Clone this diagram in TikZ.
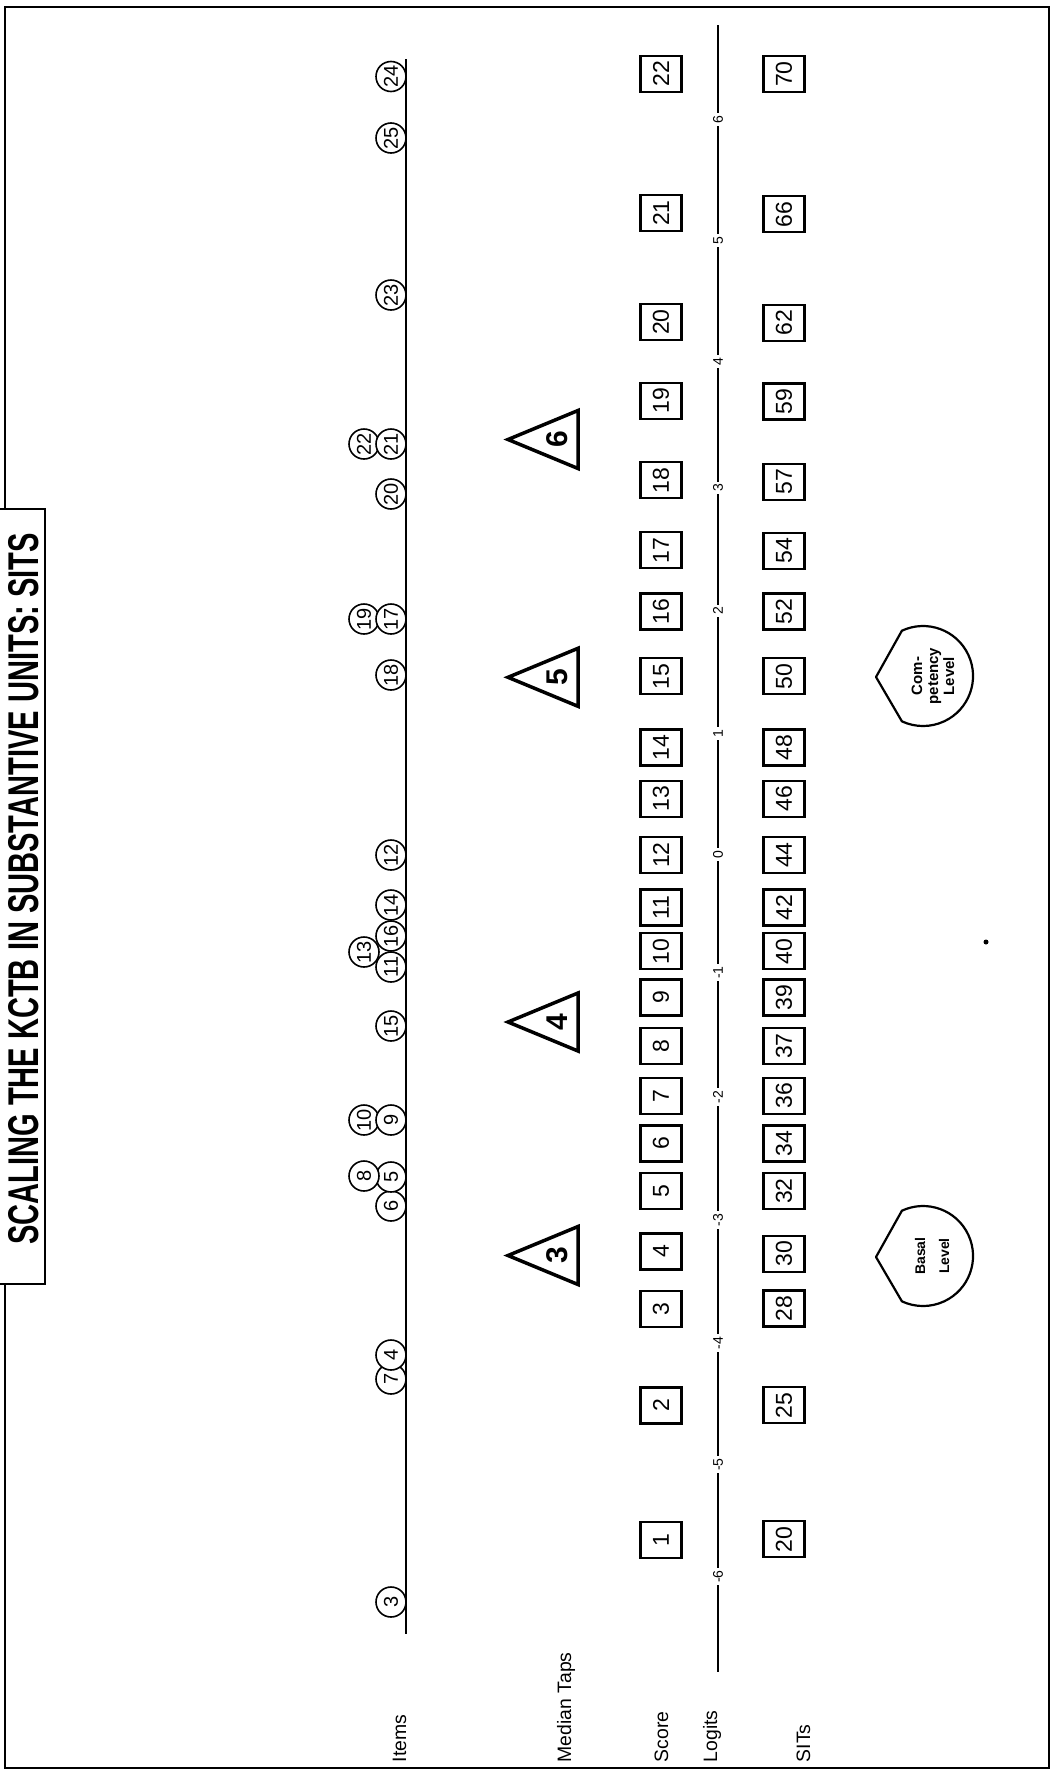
\documentclass[tikz,border=0pt]{standalone}
\usepackage{fontspec}
\setmainfont{Liberation Sans}
\begin{document}
\begin{tikzpicture}[x=1pt,y=-1pt,
  itm/.style={circle, draw, fill=white, line width=1.6pt, minimum size=30pt, inner sep=0pt, rotate=90, font=\fontsize{20}{20}\selectfont},
  sbox/.style={rectangle, draw, fill=white, line width=2.2pt, minimum width=36pt, minimum height=41pt, inner sep=0pt, rotate=90, font=\fontsize{23}{23}\selectfont},
  lgt/.style={fill=white, inner sep=2.5pt, rotate=90, font=\fontsize{14}{14}\selectfont},
  rowlab/.style={rotate=90, anchor=base west, inner sep=0pt, font=\fontsize{19.4}{20}\selectfont},
  tri/.style={line width=3.5pt, line join=miter},
  trilab/.style={rotate=90, inner sep=0pt, font=\fontsize{30}{30}\selectfont\bfseries},
  lvl/.style={line width=2.2pt, line join=round},
  lvltext/.style={rotate=90, align=center, inner sep=0pt},
  axisline/.style={line width=2pt},
  framel/.style={line width=2pt}
]
\useasboundingbox (0,0) rectangle (1057,1775);

% outer frame and title box
\draw[framel] (5,509) -- (5,7) -- (1049,7) -- (1049,1768) -- (5,1768) -- (5,1284);
\draw[framel] (0,509) -- (45,509) -- (45,1284) -- (0,1284);
\node[rotate=90, anchor=base, inner sep=0pt, font=\fontsize{43}{43}\selectfont\bfseries] (title) at (38,889)
  {\scalebox{0.676}[1]{SCALING THE KCTB IN SUBSTANTIVE UNITS: SITS}};

% row labels
\node[rowlab] (lItems)  at (406,1762.5) {Items};
\node[rowlab] (lMedian) at (571,1762.5) {Median Taps};
\node[rowlab] (lScore)  at (668,1762.5) {Score};
\node[rowlab] (lLogits) at (717,1762.5) {Logits};
\node[rowlab] (lSITs)   at (810,1762.5) {SITs};

% items line
\coordinate (itop) at (406,59);
\coordinate (ibot) at (406,1633.5);
\draw[axisline] (itop) -- (ibot);

% item circles (back ones first)
\node[itm] (i24) at (391,76.5) {24};
\node[itm] (i25) at (391,138) {25};
\node[itm] (i23) at (391,295) {23};
\node[itm] (i22) at (364,444) {22};
\node[itm] (i21) at (391,444) {21};
\node[itm] (i20) at (391,494) {20};
\node[itm] (i19) at (364,619) {19};
\node[itm] (i17) at (391,619) {17};
\node[itm] (i18) at (391,675) {18};
\node[itm] (i12) at (391,855) {12};
\node[itm] (i16) at (391,936) {16};
\node[itm] (i14) at (391,905) {14};
\node[itm] (i11) at (391,967) {11};
\node[itm] (i13) at (364,952) {13};
\node[itm] (i15) at (391,1026) {15};
\node[itm] (i10) at (364,1120) {10};
\node[itm] (i9)  at (391,1120) {9};
\node[itm] (i6)  at (391,1206) {6};
\node[itm] (i5)  at (391,1177) {5};
\node[itm] (i8)  at (364,1176) {8};
\node[itm] (i7)  at (391,1379) {7};
\node[itm] (i4)  at (391,1355) {4};
\node[itm] (i3)  at (391,1602) {3};

% median taps triangles
\foreach \n/\yc in {6/439.5, 5/677.3, 4/1022, 3/1255.5}{
  \draw[tri] (508,\yc) -- (578,\yc-29) -- (578,\yc+29) -- cycle;
  \node[trilab] (t\n) at (557,\yc) {\n};
}

% score boxes
\foreach \n/\y in {1/1539.6, 2/1405.4, 3/1308.7, 4/1251.5, 5/1191, 6/1143.4, 7/1095.7, 8/1046,
  9/997.4, 10/951.3, 11/907.4, 12/855, 13/798.6, 14/747.5, 15/676.3, 16/611.4, 17/550.3,
  18/480.3, 19/400.9, 20/322, 21/213, 22/73.7}{
  \node[sbox] (s\n) at (661,\y) {\n};
}

% logits axis
\coordinate (ltop) at (718,25);
\coordinate (lbot) at (718,1671.5);
\draw[axisline] (ltop) -- (lbot);
\foreach \nm/\t/\y in {p6/6/119.4, p5/5/240.3, p4/4/361.7, p3/3/487.9, p2/2/611, p1/1/733.5,
  z0/0/854.8, m1/-1/972.7, m2/-2/1097, m3/-3/1219.8, m4/-4/1343.2, m5/-5/1464.6, m6/-6/1576.6}{
  \node[lgt] (L\nm) at (718,\y) {\t};
}

% SIT boxes
\foreach \n/\y in {20/1539.2, 25/1405.2, 28/1308.5, 30/1253.6, 32/1191, 34/1143.4, 36/1095.7,
  37/1046, 39/997.4, 40/951.3, 42/907.4, 44/855, 46/798.6, 48/747.5, 50/676.3, 52/611.4,
  54/550.7, 57/481.6, 59/401.5, 62/322.8, 66/214.3, 70/74}{
  \node[sbox] (u\n) at (784,\y) {\n};
}

% level markers
\draw[lvl] (876,677) -- (901.9,630.7) arc[start angle=115, end angle=-115, radius=50pt] -- cycle;
\node[lvltext, font=\fontsize{15}{16}\selectfont\bfseries] (comp) at (933,676) {Com-\\petency\\Level};
\draw[lvl] (876,1257) -- (901.9,1210.7) arc[start angle=115, end angle=-115, radius=50pt] -- cycle;
\node[lvltext, font=\fontsize{14}{24}\selectfont\bfseries] (basal) at (932,1256) {Basal\\Level};

% stray dot
\fill (986,942) circle[radius=2.5pt];
\end{tikzpicture}
\end{document}
